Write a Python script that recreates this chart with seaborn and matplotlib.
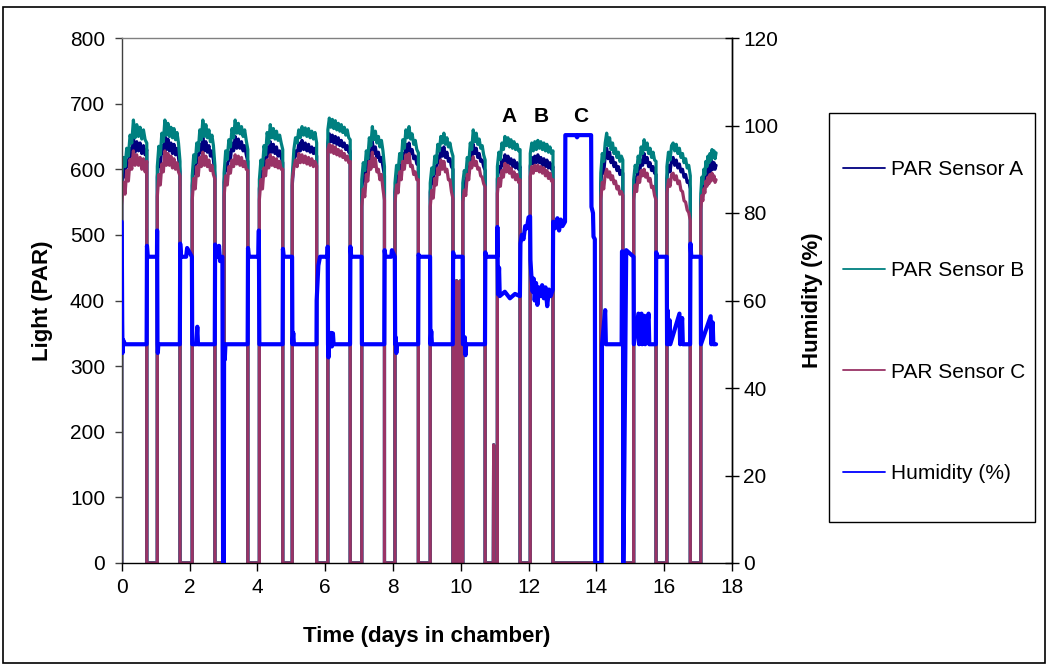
import numpy as np
import pandas as pd
import matplotlib
matplotlib.use("Agg")
import matplotlib.pyplot as plt
import seaborn as sns
from matplotlib.lines import Line2D
from matplotlib.patches import Rectangle

sns.set_theme(style="white")
plt.rcParams['font.family'] = ['Liberation Sans', 'DejaVu Sans']
plt.rcParams.update({"text.color": "black", "axes.labelcolor": "black",
                     "xtick.color": "black", "ytick.color": "black"})

# Photoperiods (days in chamber): lamps switch on / off
light_on = [0.00, 1.05, 2.08, 3.02, 4.06, 5.03, 6.08, 7.08, 8.06, 9.10,
            10.06, 11.08, 12.05, 14.13, 15.10, 16.08, 17.08]
light_off = [0.74, 1.72, 2.75, 3.72, 4.75, 5.75, 6.74, 7.75, 8.75, 9.77,
             10.72, 11.75, 12.72, 14.78, 15.76, 16.77, 17.53]
record_end = 17.53

# PAR readings through each photoperiod (evenly spaced within the period)
par_b = [
    [590, 618, 604, 632, 620, 652, 640, 675, 648, 668, 650, 664, 646, 660, 645, 640],
    [604, 635, 622, 655, 642, 675, 652, 670, 650, 664, 648, 662, 645, 656, 640, 612],
    [590, 622, 610, 640, 628, 660, 645, 675, 650, 668, 648, 660, 642, 652, 636, 605],
    [594, 628, 615, 645, 634, 662, 648, 675, 655, 670, 654, 665, 650, 660, 644, 630],
    [584, 614, 602, 636, 622, 656, 640, 668, 648, 662, 646, 658, 644, 652, 640, 630],
    [589, 630, 648, 640, 660, 648, 665, 652, 663, 650, 662, 648, 658, 646, 656, 640],
    [660, 678, 664, 676, 662, 674, 660, 670, 658, 668, 656, 664, 652, 660, 648, 645],
    [584, 610, 598, 628, 616, 648, 636, 665, 645, 658, 640, 650, 634, 644, 628, 604],
    [579, 606, 596, 624, 612, 645, 632, 660, 648, 665, 646, 654, 638, 644, 630, 625],
    [579, 602, 592, 620, 610, 638, 628, 650, 640, 655, 638, 648, 634, 640, 628, 620],
    [579, 598, 590, 618, 608, 640, 630, 660, 642, 655, 638, 646, 632, 636, 622, 614],
    [604, 626, 615, 640, 630, 650, 636, 648, 634, 645, 632, 642, 630, 638, 628, 630],
    [624, 640, 628, 642, 630, 644, 632, 642, 630, 640, 628, 638, 626, 634, 624, 628],
    [594, 624, 612, 640, 655, 636, 648, 630, 640, 624, 632, 618, 626, 612, 620, 614],
    [584, 606, 596, 620, 610, 634, 624, 645, 630, 640, 624, 632, 618, 626, 614, 612],
    [604, 626, 614, 636, 640, 628, 638, 624, 632, 618, 624, 610, 616, 602, 606, 590],
    [563, 588, 578, 600, 592, 612, 604, 620, 610, 624, 614, 630, 618, 628, 616, 625],
]
par_a = [
    [575, 600, 588, 614, 604, 632, 620, 648, 626, 642, 628, 640, 624, 636, 622, 630],
    [588, 615, 604, 636, 624, 650, 630, 646, 628, 640, 624, 638, 622, 632, 618, 596],
    [575, 604, 594, 622, 610, 638, 626, 648, 628, 642, 626, 636, 620, 628, 614, 590],
    [580, 608, 598, 626, 614, 640, 628, 650, 632, 646, 632, 642, 628, 636, 622, 612],
    [570, 596, 586, 616, 606, 634, 620, 642, 626, 638, 624, 634, 620, 628, 618, 610],
    [575, 612, 628, 620, 640, 628, 644, 630, 640, 628, 638, 626, 634, 624, 632, 620],
    [640, 654, 642, 652, 640, 650, 638, 648, 636, 644, 634, 640, 630, 636, 626, 628],
    [570, 592, 582, 610, 600, 628, 616, 642, 624, 634, 618, 626, 612, 618, 604, 590],
    [565, 588, 580, 606, 596, 624, 612, 638, 626, 640, 624, 630, 616, 620, 608, 606],
    [565, 586, 578, 604, 594, 620, 610, 632, 620, 634, 618, 626, 612, 616, 604, 600],
    [565, 582, 576, 602, 594, 622, 612, 638, 624, 632, 618, 624, 612, 614, 604, 598],
    [585, 604, 596, 614, 606, 622, 610, 620, 608, 616, 604, 614, 602, 610, 600, 604],
    [605, 618, 608, 620, 610, 622, 610, 618, 606, 616, 604, 614, 602, 610, 600, 604],
    [578, 604, 594, 620, 632, 616, 626, 610, 618, 604, 610, 598, 604, 592, 598, 594],
    [568, 588, 580, 602, 594, 614, 606, 624, 610, 618, 604, 610, 598, 604, 594, 592],
    [586, 606, 596, 614, 618, 606, 614, 602, 608, 596, 600, 588, 592, 580, 582, 570],
    [548, 570, 562, 584, 576, 596, 588, 604, 594, 608, 598, 612, 600, 610, 600, 606],
]
par_c = [
    [545, 580, 562, 598, 582, 615, 600, 628, 606, 622, 606, 618, 600, 616, 596, 612],
    [558, 592, 576, 608, 596, 628, 606, 624, 606, 620, 602, 616, 600, 610, 596, 590],
    [553, 586, 570, 604, 590, 618, 604, 626, 606, 620, 604, 614, 598, 606, 592, 585],
    [558, 590, 576, 604, 594, 614, 604, 622, 608, 620, 606, 618, 604, 612, 600, 598],
    [553, 584, 570, 602, 590, 614, 602, 622, 606, 618, 604, 616, 602, 612, 600, 600],
    [584, 602, 614, 604, 624, 610, 622, 610, 620, 608, 618, 606, 616, 604, 612, 605],
    [630, 638, 626, 636, 624, 634, 622, 630, 620, 628, 618, 624, 614, 620, 610, 612],
    [543, 570, 558, 592, 582, 612, 600, 626, 604, 616, 596, 600, 584, 592, 570, 553],
    [548, 576, 564, 596, 584, 612, 600, 622, 610, 624, 604, 606, 592, 596, 584, 584],
    [543, 568, 556, 586, 576, 602, 592, 614, 600, 612, 596, 600, 584, 584, 566, 555],
    [550, 568, 560, 592, 584, 610, 602, 619, 606, 612, 600, 602, 590, 588, 578, 573],
    [563, 586, 574, 598, 588, 609, 596, 606, 594, 602, 588, 596, 584, 592, 580, 584],
    [589, 604, 594, 606, 598, 606, 596, 604, 594, 602, 590, 598, 586, 594, 582, 584],
    [553, 580, 570, 592, 600, 588, 596, 584, 590, 578, 582, 570, 574, 562, 566, 560],
    [553, 576, 566, 588, 580, 598, 590, 600, 588, 594, 582, 586, 572, 574, 560, 553],
    [563, 584, 574, 592, 594, 584, 590, 578, 582, 568, 566, 552, 550, 538, 534, 522],
    [538, 560, 552, 570, 564, 582, 574, 588, 578, 592, 582, 594, 584, 590, 580, 584],
]

# Lamp flicker before day 10 and a short flash near day 11
flicker_day = [9.84, 9.85, 9.86, 9.875, 9.89, 9.905, 9.92, 9.935, 9.95, 9.965,
               9.98, 9.995, 10.01, 10.025, 10.04, 10.05, 10.962, 10.97, 10.978]
flicker_par = [0, 415, 0, 430, 0, 420, 0, 428, 0, 418,
               0, 430, 0, 422, 0, 0, 0, 180, 0]

# Relative humidity log (day, %)
hum_day = [0.00, 0.015, 0.025, 0.04, 0.10, 0.735,
           0.745, 0.77, 1.04, 1.045, 1.055, 1.065, 1.08, 1.715,
           1.725, 1.75, 1.90, 1.93, 2.07, 2.08, 2.20, 2.23, 2.25, 2.745,
           2.755, 2.78, 2.85, 2.87, 2.90, 2.97, 2.99, 3.01, 3.02, 3.04, 3.06, 3.715,
           3.725, 3.75, 4.03, 4.045, 4.06, 4.745,
           4.755, 4.78, 5.025, 5.035, 5.06, 5.08, 5.745,
           5.75, 5.80, 5.85, 6.07, 6.075, 6.085, 6.10, 6.12, 6.15, 6.18, 6.20,
           6.23, 6.25, 6.735,
           6.745, 6.77, 7.075, 7.085, 7.745,
           7.755, 7.78, 7.95, 7.97, 8.055, 8.065, 8.08, 8.10, 8.12, 8.745,
           8.755, 8.78, 9.095, 9.105, 9.13, 9.15, 9.765,
           9.775, 9.80, 10.055, 10.065, 10.12, 10.14, 10.16, 10.715,
           10.725, 10.75, 11.075, 11.08, 11.10, 11.13, 11.15, 11.30, 11.45,
           11.60, 11.745,
           11.76, 11.80, 11.85, 11.90, 11.95, 12.00, 12.045,
           12.055, 12.08, 12.12, 12.15, 12.18, 12.22, 12.26, 12.30, 12.35, 12.40,
           12.45, 12.50, 12.55, 12.60, 12.65, 12.715,
           12.725, 12.78, 12.85, 12.90, 12.95, 13.00, 13.075,
           13.085, 13.40, 13.43, 13.46, 13.845, 13.855, 13.90, 13.915, 13.955,
           13.965, 14.155, 14.165, 14.26, 14.28, 14.745,
           14.755, 14.785, 14.79, 14.80, 14.88, 15.095,
           15.105, 15.24, 15.26, 15.33, 15.35, 15.42, 15.44, 15.54, 15.56, 15.755,
           15.765, 15.80, 16.075,
           16.085, 16.10, 16.12, 16.16, 16.18, 16.45, 16.47, 16.53, 16.55, 16.765,
           16.775, 16.80, 17.075,
           17.085, 17.37, 17.39, 17.43, 17.45, 17.53]
hum_pct = [78, 55, 48, 51, 50, 50,
           72.5, 70, 70, 76, 50, 48, 50, 50,
           73, 70, 70, 72, 70, 50, 50, 54, 50, 50,
           72.8, 70, 70, 72.5, 69, 70, 0, 0, 50, 46.5, 50, 50,
           72, 70, 70, 76, 50, 50,
           71.8, 70, 70, 50, 52.6, 50, 50,
           60, 68, 70, 70, 72.3, 50, 47, 52.6, 49.5, 52.6, 49.5,
           52.5, 50, 50,
           72.3, 70, 70, 50, 50,
           71.5, 70, 70, 71.5, 70, 50, 51.6, 48, 50, 50,
           70.5, 70, 70, 50, 53, 50, 50,
           71, 70, 70, 50, 51.6, 47.5, 50, 50,
           71, 70, 70, 76.8, 61.4, 67.5, 61, 62, 60.5,
           61.5, 61,
           73, 75, 74, 77, 76.5, 79, 79.2,
           69.3, 66, 62, 65, 60, 64, 59, 63, 61, 63.5,
           60.5, 63, 58.7, 62.5, 61, 62.5,
           78, 76.5, 78.8, 76, 78.5, 77, 78,
           97.8, 97.8, 97.3, 97.8, 97.8, 81.4, 80, 74.6, 74,
           0, 0, 50, 57.8, 50, 50,
           71.2, 71.2, 0, 0, 71.5, 70,
           50, 57, 50, 57, 50, 56.5, 50, 57, 50, 50,
           71, 70, 70,
           50, 57.8, 50, 55.5, 50, 57, 50, 56, 50, 50,
           73, 70, 70,
           50, 56.4, 50, 55, 50, 50]

sensor_names = ["PAR Sensor A", "PAR Sensor B", "PAR Sensor C"]
sensor_colors = ["#000080", "#008080", "#993366"]
hum_color = "#0000FF"


def sensor_frame(readings):
    days, vals = [], []
    for t0, t1, r in zip(light_on, light_off, readings):
        days.append(t0)
        vals.append(0)
        days.extend(np.linspace(t0, t1, len(r)))
        vals.extend(r)
        if t1 < record_end:
            days.append(t1)
            vals.append(0)
    days.extend(flicker_day)
    vals.extend(flicker_par)
    order = np.argsort(np.asarray(days), kind="stable")
    return pd.DataFrame({"day": np.asarray(days)[order],
                         "par": np.asarray(vals, dtype=float)[order]})


W, H = 1048, 666
fig = plt.figure(figsize=(W / 100, H / 100), dpi=100)
ax = fig.add_axes([121.7 / W, 1 - 563 / H, (732 - 121.7) / W, (563 - 38) / H])
ax2 = ax.twinx()

for readings, name, col in zip([par_a, par_b, par_c], sensor_names, sensor_colors):
    df = sensor_frame(readings)
    sns.lineplot(data=df, x="day", y="par", ax=ax, color=col, lw=2.3,
                 estimator=None, sort=False, legend=False)

hum = pd.DataFrame({"day": hum_day, "rh": hum_pct})
sns.lineplot(data=hum, x="day", y="rh", ax=ax2, color=hum_color, lw=3.0,
             estimator=None, sort=False, legend=False)

ax.set_xlim(0, 18)
ax.set_ylim(0, 800)
ax2.set_ylim(0, 120)
ax.set_xticks(range(0, 19, 2))
ax.set_yticks(range(0, 801, 100))
ax2.set_yticks(range(0, 121, 20))

fs = 15
ax.tick_params(axis="x", direction="out", length=6, width=1, color="black",
               labelcolor="black", labelsize=fs, pad=5, bottom=True)
ax.tick_params(axis="y", direction="out", length=5, width=1, color="#404040",
               labelcolor="black", labelsize=fs, pad=7, left=True)
ax2.tick_params(axis="y", direction="inout", length=10, width=1, color="black",
                labelcolor="black", labelsize=fs, pad=3, right=True)

for side, col in [("left", "#404040"), ("top", "#808080"),
                  ("bottom", "black"), ("right", "black")]:
    ax.spines[side].set_color(col)
    ax.spines[side].set_linewidth(1)
for side in ["left", "top", "bottom"]:
    ax2.spines[side].set_visible(False)
ax2.spines["right"].set_color("black")
ax2.spines["right"].set_linewidth(1)

ax.set_xlabel("Time (days in chamber)", fontsize=16, fontweight="bold",
              labelpad=21, color="black")
ax.set_ylabel("Light (PAR)", fontsize=16, fontweight="bold", labelpad=12,
              color="black")
ax2.set_ylabel("Humidity (%)", fontsize=16, fontweight="bold", labelpad=17,
               color="black")

for label, xd in [("A", 11.43), ("B", 12.38), ("C", 13.53)]:
    ax.text(xd, 681, label, fontsize=15, fontweight="bold", ha="center",
            va="center", color="black")

handles = [Line2D([0], [0], color=c, lw=1.3) for c in sensor_colors + [hum_color]]
labels = sensor_names + ["Humidity (%)"]
leg = fig.legend(handles, labels, loc="upper left",
                 bbox_to_anchor=(843 / W, 1 - 160 / H), frameon=False,
                 fontsize=fs, handlelength=2.0, handletextpad=0.3,
                 labelspacing=3.95, borderpad=0, borderaxespad=0)
for t in leg.get_texts():
    t.set_color("black")

fig.patches.append(Rectangle((829 / W, 1 - 522 / H), (1035 - 829) / W, (522 - 113) / H,
                             transform=fig.transFigure, fill=False,
                             edgecolor="black", lw=1))
fig.patches.append(Rectangle((3 / W, 3 / H), (1045 - 3) / W, (659 - 3) / H,
                             transform=fig.transFigure, fill=False,
                             edgecolor="black", lw=1.2))

fig.savefig("out.png", dpi=100)
